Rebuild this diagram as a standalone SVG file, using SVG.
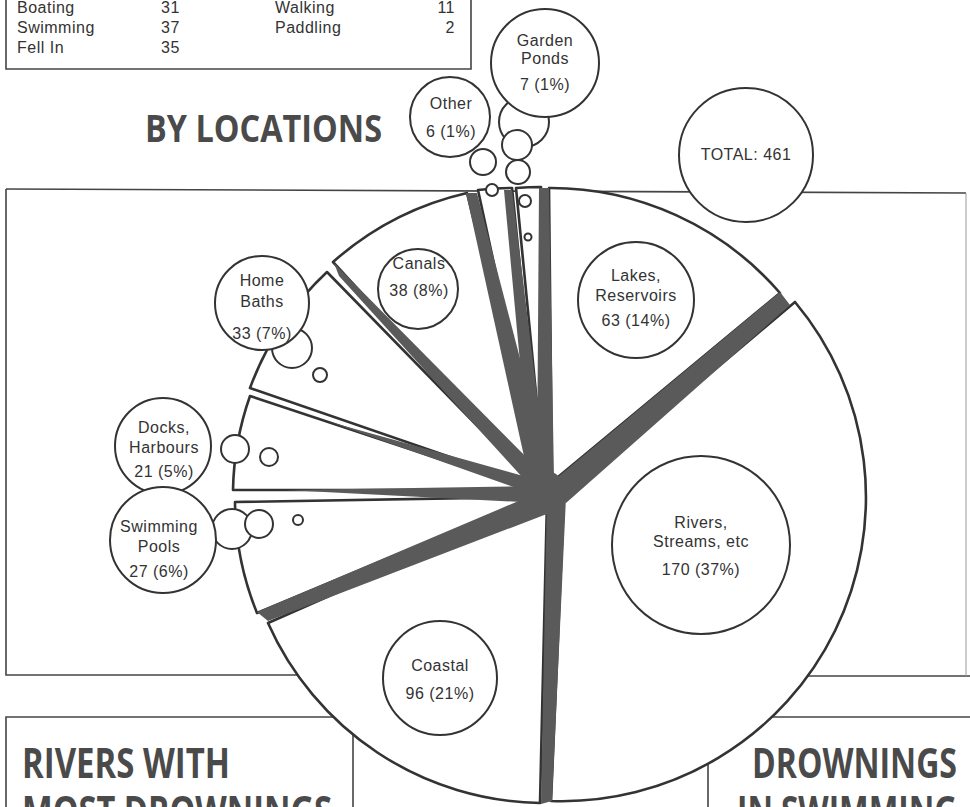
<svg xmlns="http://www.w3.org/2000/svg" width="970" height="807" viewBox="0 0 970 807">
<style>
.ln{fill:none;stroke:#444;stroke-width:1.6}
.lf{fill:none;stroke:#999;stroke-width:1}
.sl{fill:#fff;stroke:#333;stroke-width:2.6;stroke-linejoin:round}
.bd{fill:#5a5a5a}
.bb{fill:#fff;stroke:#333;stroke-width:2}
.t{font-family:"Liberation Sans",Arial,sans-serif;font-size:16px;fill:#333;letter-spacing:0.5px}
.c{text-anchor:middle}
.e{text-anchor:end}
.h{font-family:"Open Sans","Liberation Sans",sans-serif;font-weight:700;fill:#4a4a4a}
</style>
<rect width="970" height="807" fill="#fff"/>
<g id="frame">
<path class="ln" d="M6,0 V69 H471 V0"/>
<path class="ln" d="M6,189 L966,193"/>
<path class="ln" d="M6,189 V675 H540"/>
<path class="ln" d="M560,676 H970"/>
<path class="lf" d="M966,193 V676"/>
<path class="ln" d="M6,807 V717 H353 V807"/>
<path class="ln" d="M970,717 H708 V807"/>
</g>
<g id="legend">
<text class="t" x="17" y="13">Boating</text>
<text class="t" x="161" y="13">31</text>
<text class="t" x="275" y="13">Walking</text>
<text class="t e" x="455" y="13">11</text>
<text class="t" x="17" y="33">Swimming</text>
<text class="t" x="161" y="33">37</text>
<text class="t" x="275" y="33">Paddling</text>
<text class="t e" x="455" y="33">2</text>
<text class="t" x="17" y="53">Fell In</text>
<text class="t" x="161" y="53">35</text>
</g>
<g id="titles">
<text class="h" x="145" y="142" font-size="38" textLength="237" lengthAdjust="spacingAndGlyphs">BY LOCATIONS</text>
<text class="h" x="22" y="778" font-size="42" textLength="208" lengthAdjust="spacingAndGlyphs">RIVERS WITH</text>
<text class="h" x="22" y="826" font-size="42" textLength="310" lengthAdjust="spacingAndGlyphs">MOST DROWNINGS</text>
<text class="h" x="752" y="778" font-size="42" textLength="205" lengthAdjust="spacingAndGlyphs">DROWNINGS</text>
<text class="h" x="737" y="826" font-size="42" textLength="220" lengthAdjust="spacingAndGlyphs">IN SWIMMING</text>
</g>
<g id="pie">
<path id="slice-lakes" class="sl" d="M552,482 L549,188 A303,303 0 0 1 780,293 Z"/>
<path id="slice-rivers" class="sl" d="M564,497 L795,302 A304,304 0 0 1 551,801 Z"/>
<path id="slice-coastal" class="sl" d="M547,500 L540,803 A303,303 0 0 1 268,623 Z"/>
<path id="slice-pools" class="sl" d="M535,497 L257,613 A300,300 0 0 1 235,502 Z"/>
<path id="slice-docks" class="sl" d="M533,490 L233,490 A300,300 0 0 1 250,396 Z"/>
<path id="slice-baths" class="sl" d="M537,487 L250,388 A302,302 0 0 1 327,272 Z"/>
<path id="slice-canals" class="sl" d="M540,488 L333,262 A305,305 0 0 1 467,193 Z"/>
<path id="slice-other" class="sl" d="M542,486 L478,190 A303,303 0 0 1 512,188 Z"/>
<path id="slice-ponds" class="sl" d="M545,486 L516,188 A300,300 0 0 1 541,187 Z"/>
<path class="bd" d="M780,292 L790,305 L566,503 L547,486 Z"/>
<path class="bd" d="M547,494 L566,497 L552,801 L541,804 Z"/>
<path class="bd" d="M257,612 L268,621 L552,512 L535,494 Z"/>
<path class="bd" d="M285,490 L540,486 L540,503 Z"/>
<path class="bd" d="M330,422 L538,480 L536,495 Z"/>
<path class="bd" d="M334,263 L339,276 L533,489 L546,477 Z"/>
<path class="bd" d="M466,193 L477,193 L550,474 L529,479 Z"/>
<path class="bd" d="M504,190 L512,190 L546,468 L530,470 Z"/>
<path class="bd" d="M539,188 L549,188 L554,480 L537,472 Z"/>
<circle class="bd" cx="546" cy="489" r="18"/>
</g>
<g id="connectors">
<circle class="bb" cx="524" cy="122" r="25"/>
<circle class="bb" cx="517" cy="145" r="15"/>
<circle class="bb" cx="518" cy="172" r="12"/>
<circle class="bb" cx="525" cy="201" r="6"/>
<circle class="bb" cx="528" cy="237" r="3.5"/>
<circle class="bb" cx="483" cy="162" r="13"/>
<circle class="bb" cx="492" cy="190" r="6"/>
<circle class="bb" cx="292" cy="348" r="20"/>
<circle class="bb" cx="320" cy="375" r="7"/>
<circle class="bb" cx="235" cy="449" r="14"/>
<circle class="bb" cx="269" cy="457" r="9"/>
<circle class="bb" cx="232" cy="529" r="20"/>
<circle class="bb" cx="259" cy="524" r="14"/>
<circle class="bb" cx="298" cy="520" r="5"/>
</g>
<g id="node-ponds">
<circle class="bb" cx="545" cy="63" r="54"/>
<text class="t c" x="545" y="46">Garden</text>
<text class="t c" x="545" y="64">Ponds</text>
<text class="t c" x="545" y="90">7 (1%)</text>
</g>
<g id="node-other">
<circle class="bb" cx="450" cy="117" r="40"/>
<text class="t c" x="451" y="109">Other</text>
<text class="t c" x="451" y="137">6 (1%)</text>
</g>
<g id="node-total">
<circle class="bb" cx="746" cy="155" r="67"/>
<text class="t c" x="746" y="160">TOTAL: 461</text>
</g>
<g id="node-lakes">
<circle class="bb" cx="636" cy="300" r="58"/>
<text class="t c" x="636" y="281">Lakes,</text>
<text class="t c" x="636" y="301">Reservoirs</text>
<text class="t c" x="636" y="326">63 (14%)</text>
</g>
<g id="node-canals">
<circle class="bb" cx="418" cy="289" r="40"/>
<text class="t c" x="419" y="269">Canals</text>
<text class="t c" x="419" y="296">38 (8%)</text>
</g>
<g id="node-baths">
<circle class="bb" cx="262" cy="303" r="47"/>
<text class="t c" x="262" y="286">Home</text>
<text class="t c" x="262" y="307">Baths</text>
<text class="t c" x="262" y="339">33 (7%)</text>
</g>
<g id="node-docks">
<circle class="bb" cx="163" cy="446" r="48"/>
<text class="t c" x="164" y="433">Docks,</text>
<text class="t c" x="164" y="453">Harbours</text>
<text class="t c" x="164" y="477">21 (5%)</text>
</g>
<g id="node-pools">
<circle class="bb" cx="163" cy="540" r="53"/>
<text class="t c" x="159" y="532">Swimming</text>
<text class="t c" x="159" y="552">Pools</text>
<text class="t c" x="159" y="577">27 (6%)</text>
</g>
<g id="node-rivers">
<circle class="bb" cx="701" cy="545" r="89"/>
<text class="t c" x="701" y="528">Rivers,</text>
<text class="t c" x="701" y="547">Streams, etc</text>
<text class="t c" x="701" y="575">170 (37%)</text>
</g>
<g id="node-coastal">
<circle class="bb" cx="440" cy="678" r="57"/>
<text class="t c" x="440" y="671">Coastal</text>
<text class="t c" x="440" y="699">96 (21%)</text>
</g>
</svg>
